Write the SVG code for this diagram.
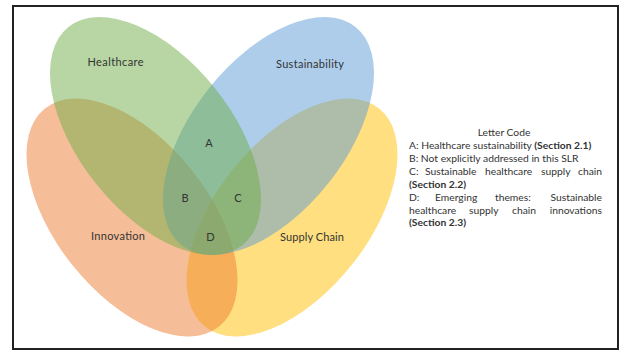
<svg xmlns="http://www.w3.org/2000/svg" width="622" height="351" viewBox="0 0 622 351">
<style>
.frame{fill:#fff;stroke:#222;stroke-width:2}
.lbl{font-family:Lato,"Open Sans",sans-serif;font-size:11px;fill:#333;text-anchor:middle}
.lt{font-family:Lato,"Open Sans",sans-serif;font-size:11px;fill:#333;text-anchor:middle}
.lg{font-family:Lato,"Open Sans",sans-serif;font-size:10.3px;fill:#333}
.b{font-weight:bold}
.e{fill-opacity:0.5;stroke:none}
</style>
<rect class="frame" x="13" y="6" width="605" height="343"/>
<g id="venn">
<g id="supply-chain"><ellipse class="e" fill="#FFC000" cx="292" cy="217.5" rx="139.5" ry="76.3" transform="rotate(-51.4 292 217.5)"/></g>
<g id="innovation"><ellipse class="e" fill="#ED7D31" cx="132" cy="217.5" rx="139.5" ry="76.3" transform="rotate(51.4 132 217.5)"/></g>
<g id="sustainability"><ellipse class="e" fill="#5B9BD5" cx="268.5" cy="136" rx="139.5" ry="76.3" transform="rotate(-51.4 268.5 136)"/></g>
<g id="healthcare"><ellipse class="e" fill="#70AD47" cx="155.5" cy="136" rx="139.5" ry="76.3" transform="rotate(51.4 155.5 136)"/></g>
</g>
<g id="labels">
<text class="lbl" x="115.5" y="65.5" textLength="56">Healthcare</text>
<text class="lbl" x="310" y="67.5" textLength="68">Sustainability</text>
<text class="lbl" x="118" y="240" textLength="54">Innovation</text>
<text class="lbl" x="312" y="240.5" textLength="64">Supply Chain</text>
<text class="lt" x="209" y="147">A</text>
<text class="lt" x="185" y="202">B</text>
<text class="lt" x="238" y="202">C</text>
<text class="lt" x="210.5" y="241">D</text>
</g>
<g id="legend" class="lg">
<text x="504" y="135.5" text-anchor="middle">Letter Code</text>
<text x="409" y="149">A: Healthcare sustainability <tspan class="b">(Section 2.1)</tspan></text>
<text x="409" y="161.5">B: Not explicitly addressed in this SLR</text>
<text x="409" y="175">C:</text>
<text x="425" y="175">Sustainable</text>
<text x="485" y="175">healthcare</text>
<text x="541" y="175">supply</text>
<text x="602" y="175" text-anchor="end">chain</text>
<text x="409" y="187.5" class="b">(Section 2.2)</text>
<text x="409" y="201">D:</text>
<text x="435" y="201">Emerging</text>
<text x="495" y="201">themes:</text>
<text x="602" y="201" text-anchor="end">Sustainable</text>
<text x="409" y="213.5">healthcare</text>
<text x="469" y="213.5">supply</text>
<text x="512" y="213.5">chain</text>
<text x="602" y="213.5" text-anchor="end">innovations</text>
<text x="409" y="225.5" class="b">(Section 2.3)</text>
</g>
</svg>
